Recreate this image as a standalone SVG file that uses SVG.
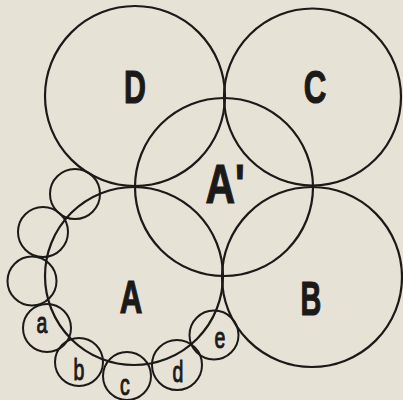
<svg xmlns="http://www.w3.org/2000/svg" width="403" height="400" viewBox="0 0 403 400">
<style>
.big{fill:none;stroke:#1c1a18;stroke-width:2.2}
.sm{fill:none;stroke:#1c1a18;stroke-width:2}
.L{font-family:"Liberation Sans",Arial,sans-serif;font-weight:bold;fill:#1c1a18;stroke:#1c1a18;stroke-width:1.2;text-anchor:middle}
.l{font-family:"Liberation Sans",Arial,sans-serif;font-size:26px;fill:#1c1a18;stroke:#1c1a18;stroke-width:0.9;text-anchor:middle}
</style>
<rect width="403" height="400" fill="#e6e2d6"/>
<g id="D"><circle class="big" cx="135" cy="96" r="90"/><text class="L" font-size="46" transform="translate(135,103) scale(0.66,1)">D</text></g>
<g id="C"><circle class="big" cx="312.5" cy="97" r="88.5"/><text class="L" font-size="46" transform="translate(315,103) scale(0.68,1)">C</text></g>
<g id="A1"><circle class="big" cx="224" cy="187" r="89"/><text class="L" font-size="56" transform="translate(225,203) scale(0.73,1)">A'</text></g>
<g id="A"><circle class="big" cx="134" cy="276" r="89"/><text class="L" font-size="46" transform="translate(131,313) scale(0.68,1)">A</text></g>
<g id="B"><circle class="big" cx="312" cy="277" r="90"/><text class="L" font-size="48" transform="translate(311,315) scale(0.6,1)">B</text></g>
<g id="s1"><circle class="sm" cx="75" cy="194" r="25"/></g>
<g id="s2"><circle class="sm" cx="43" cy="232" r="25"/></g>
<g id="s3"><circle class="sm" cx="32" cy="281" r="24.5"/></g>
<g id="a"><circle class="sm" cx="47" cy="328" r="24"/><text class="l" transform="translate(42,333) scale(0.75,1.15)">a</text></g>
<g id="b"><circle class="sm" cx="79" cy="362" r="24"/><text class="l" transform="translate(79,380) scale(0.75,1.15)">b</text></g>
<g id="c"><circle class="sm" cx="127" cy="376" r="24"/><text class="l" transform="translate(125,395) scale(0.75,1.15)">c</text></g>
<g id="d"><circle class="sm" cx="177" cy="365" r="25"/><text class="l" transform="translate(178,382) scale(0.75,1.15)">d</text></g>
<g id="e"><circle class="sm" cx="214" cy="335" r="24.5"/><text class="l" transform="translate(220,348) scale(0.75,1.15)">e</text></g>
<g id="connectors"/>
</svg>
